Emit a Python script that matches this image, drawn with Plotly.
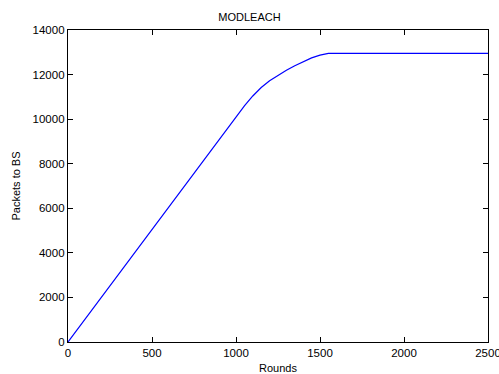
import plotly.graph_objects as go

rounds = [0, 100, 200, 300, 400, 500, 600, 700, 800, 900, 970, 1000, 1050, 1100,
          1150, 1200, 1250, 1300, 1350, 1400, 1450, 1500, 1550, 1580, 2500]
packets = [0, 1010, 2020, 3030, 4040, 5050, 6060, 7070, 8080, 9090, 9800, 10100,
           10600, 11040, 11420, 11720, 11970, 12190, 12400, 12590, 12750, 12870,
           12950, 12955, 12955]

x_ticks = [0, 500, 1000, 1500, 2000, 2500]
y_ticks = [0, 2000, 4000, 6000, 8000, 10000, 12000, 14000]

font = "Liberation Sans, Arial, sans-serif"

fig = go.Figure()
fig.add_trace(go.Scatter(x=rounds, y=packets, mode="lines",
                         line=dict(color="#0000ff", width=1.2), showlegend=False))

axis_common = dict(showgrid=False, zeroline=False, showline=True, linecolor="black",
                   linewidth=1.3, mirror="ticks", ticks="inside", ticklen=5,
                   tickcolor="black", tickwidth=1, automargin=False,
                   ticklabeloverflow="allow",
                   tickfont=dict(family=font, size=11.5, color="black"))

fig.update_layout(
    width=499, height=374,
    margin=dict(l=68, r=11, t=30, b=32),
    paper_bgcolor="white", plot_bgcolor="white",
    title=dict(text="MODLEACH", x=0.5, xanchor="center", y=1 - 17 / 374,
               yanchor="middle", yref="container",
               font=dict(family=font, size=11, color="black")),
    xaxis=dict(range=[0, 2500], tickvals=x_ticks, ticktext=[str(v) for v in x_ticks],
               title=dict(text="Rounds", font=dict(family=font, size=11, color="black"),
                          standoff=7),
               **axis_common),
    yaxis=dict(range=[0, 14000], tickvals=y_ticks, ticktext=[str(v) for v in y_ticks],
               title=dict(text="Packets to BS", font=dict(family=font, size=11, color="black"),
                          standoff=9),
               **axis_common),
)

fig.write_html("out.html", config={"displayModeBar": False},
               post_script="document.body.style.margin='0';document.body.style.overflow='hidden';")
